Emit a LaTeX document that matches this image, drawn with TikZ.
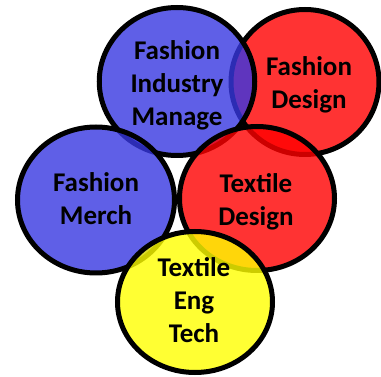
\documentclass[tikz,border=0pt]{standalone}
\usepackage{fontspec}
\setmainfont{Carlito}
\usetikzlibrary{shapes.geometric}
\definecolor{cblue}{RGB}{55,55,225}
\definecolor{cred}{RGB}{255,0,0}
\definecolor{cyellow}{RGB}{255,255,0}
\tikzset{
  bubble/.style={ellipse, draw=black, line width=5pt, fill opacity=0.8, inner sep=0pt},
  lbl/.style={align=center, font=\fontsize{27}{33}\selectfont\bfseries, text=black, inner sep=0pt}
}
\begin{document}
\begin{tikzpicture}[x=1pt,y=-1pt]
\useasboundingbox (0,0) rectangle (381,377);
\node[bubble, fill=cred, minimum width=148pt, minimum height=145pt] (fd) at (305,82) {};
\node[bubble, fill=cblue, minimum width=155.5pt, minimum height=148pt] (fim) at (177,81.5) {};
\node[bubble, fill=cblue, minimum width=157pt, minimum height=146pt] (fm) at (96,200) {};
\node[bubble, fill=cred, minimum width=155pt, minimum height=144pt] (td) at (257,198.5) {};
\node[bubble, fill=cyellow, minimum width=155pt, minimum height=141pt] (tet) at (195,302) {};
\node[lbl] (fimt) at (177,85.5) {Fashion\\Industry\\Manage};
\node[lbl] (fdt) at (309,84.5) {Fashion\\Design};
\node[lbl] (fmt) at (96,199) {Fashion\\Merch};
\node[lbl] (tdt) at (256,201.5) {Textile\\Design};
\node[lbl] (tett) at (194,300.5) {Textile\\Eng\\Tech};
\end{tikzpicture}
\end{document}
